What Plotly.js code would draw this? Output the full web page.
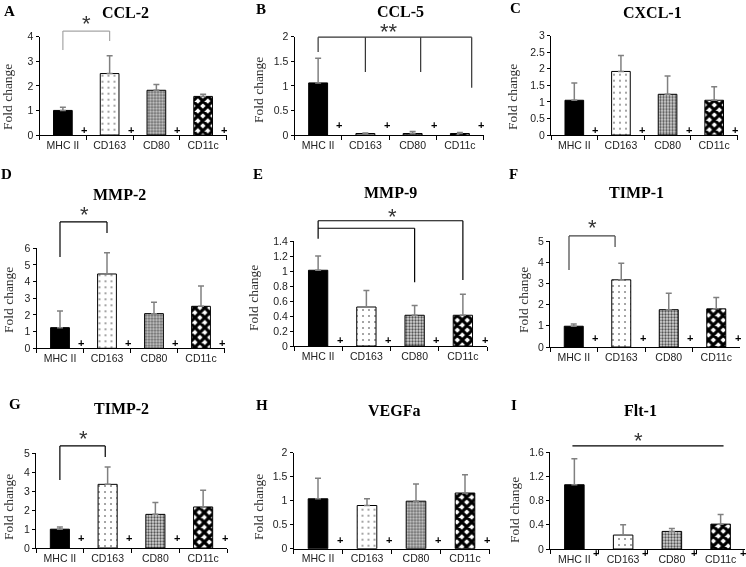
<!DOCTYPE html>
<html>
<head>
<meta charset="utf-8">
<script src="https://cdn.plot.ly/plotly-3.0.1.min.js"></script>
<style>
html,body{margin:0;padding:0;background:#fff}
#plot{filter:grayscale(100%)}
</style>
</head>
<body>
<div id="plot" style="width:746px;height:567px"></div>
<script>
/* fold change of each gene, mean and SD, per cell type */
var cells = ["MHC II", "CD163", "CD80", "CD11c"];

var ccl2 = [1.0, 2.5, 1.82, 1.57];
var ccl2Sd = [0.13, 0.72, 0.23, 0.09];
var ccl5 = [1.06, 0.03, 0.03, 0.03];
var ccl5Sd = [0.5, 0.01, 0.04, 0.02];
var cxcl1 = [1.05, 1.92, 1.23, 1.05];
var cxcl1Sd = [0.52, 0.48, 0.55, 0.41];
var mmp2 = [1.24, 4.46, 2.08, 2.52];
var mmp2Sd = [1.0, 1.28, 0.68, 1.22];
var mmp9 = [1.01, 0.52, 0.41, 0.41];
var mmp9Sd = [0.19, 0.22, 0.13, 0.28];
var timp1 = [0.98, 3.17, 1.76, 1.8];
var timp1Sd = [0.1, 0.78, 0.78, 0.54];
var timp2 = [0.99, 3.35, 1.77, 2.16];
var timp2Sd = [0.11, 0.91, 0.62, 0.88];
var vegfa = [1.04, 0.9, 0.99, 1.16];
var vegfaSd = [0.43, 0.14, 0.36, 0.38];
var flt1 = [1.06, 0.23, 0.29, 0.41];
var flt1Sd = [0.43, 0.17, 0.05, 0.16];

var W = 746, H = 567;
function fx(p) { return p / W; }
function fy(p) { return 1 - p / H; }

// fill of each cell type's bar
var cellStyle = [
  {color: '#000', pattern: {shape: ''}},
  {color: '#fff', pattern: {shape: '.', fgcolor: '#333', bgcolor: '#fff', size: 6, solidity: 0.06, fillmode: 'replace'}},
  {color: '#bdbdbd', pattern: {shape: '.', fgcolor: '#555', bgcolor: '#d4d4d4', size: 3, solidity: 0.45, fillmode: 'replace'}},
  {color: '#fff', pattern: {shape: 'x', fgcolor: '#000', bgcolor: '#fff', size: 7, solidity: 0.7, fillmode: 'replace'}}
];

/* box = [left, right, bottom, top] in px */
var panels = [
  {id: 'A', gene: 'CCL-2', mean: ccl2, sd: ccl2Sd, box: [39.5, 226.5, 135, 36.7], ymax: 4, dtick: 1,
   letter: [9, 11], title: [125, 13], ylab: [8, 97], plus: 5, lineColor: '#a6a6a6',
   lines: [[0, 3.46, 0, 4.23], [0, 4.23, 1, 4.23], [1, 4.23, 1, 3.82]], star: ['*', 0.5, 4.76]},
  {id: 'B', gene: 'CCL-5', mean: ccl5, sd: ccl5Sd, box: [294.5, 483.5, 135, 36.7], ymax: 2, dtick: 0.5,
   letter: [261, 9], title: [400, 11], ylab: [258, 90], plus: 10, lineColor: '#333',
   lines: [[0, 1.99, 3.25, 1.99], [0, 1.99, 0, 1.69], [1, 1.99, 1, 1.28], [2.17, 1.99, 2.17, 1.28], [3.25, 1.99, 3.25, 0.96]],
   star: ['**', 1.5, 2.2]},
  {id: 'C', gene: 'CXCL-1', mean: cxcl1, sd: cxcl1Sd, box: [551, 737.5, 135, 35.7], ymax: 3, dtick: 0.5,
   letter: [515, 8], title: [652, 13], ylab: [513, 97], plus: 5, lineColor: '#000', lines: [], star: null},
  {id: 'D', gene: 'MMP-2', mean: mmp2, sd: mmp2Sd, box: [36.5, 224.5, 348.3, 248.3], ymax: 6, dtick: 1,
   letter: [7, 174], title: [119, 194], ylab: [8, 300], plus: 5, lineColor: '#000',
   lines: [[0, 5.48, 0, 7.58], [0, 7.58, 1, 7.58], [1, 7.58, 1, 6.92]], star: ['*', 0.53, 8.3]},
  {id: 'E', gene: 'MMP-9', mean: mmp9, sd: mmp9Sd, box: [294, 487, 346, 241], ymax: 1.4, dtick: 0.2,
   letter: [258, 174], title: [390, 193], ylab: [253, 298], plus: 6, lineColor: '#000',
   lines: [[0, 1.43, 0, 1.67], [0, 1.67, 3, 1.67], [3, 1.67, 3, 0.88], [0, 1.57, 2, 1.57], [2, 1.57, 2, 0.85]],
   star: ['*', 1.55, 1.79]},
  {id: 'F', gene: 'TIMP-1', mean: timp1, sd: timp1Sd, box: [550, 740, 347, 241], ymax: 5, dtick: 1,
   letter: [513, 174], title: [636, 193], ylab: [523, 300], plus: 9, lineColor: '#444',
   lines: [[-0.1, 3.63, -0.1, 5.24], [-0.1, 5.24, 0.87, 5.24], [0.87, 5.24, 0.87, 4.72]], star: ['*', 0.4, 5.85]},
  {id: 'G', gene: 'TIMP-2', mean: timp2, sd: timp2Sd, box: [36, 227, 548, 453], ymax: 5, dtick: 1,
   letter: [15, 404], title: [121, 408], ylab: [8, 507], plus: 10, lineColor: '#000',
   lines: [[0, 3.58, 0, 5.37], [0, 5.37, 0.95, 5.37], [0.95, 5.37, 0.95, 4.79]], star: ['*', 0.5, 6.05]},
  {id: 'H', gene: 'VEGFa', mean: vegfa, sd: vegfaSd, box: [293.5, 489.5, 548.7, 452.7], ymax: 2, dtick: 0.5,
   letter: [262, 405], title: [394, 410], ylab: [258, 507], plus: 9, lineColor: '#000', lines: [], star: null},
  {id: 'I', gene: 'Flt-1', mean: flt1, sd: flt1Sd, box: [550, 745, 549, 452], ymax: 1.6, dtick: 0.4,
   letter: [514, 405], title: [640, 410], ylab: [514, 510], plus: -4, lineColor: '#000',
   lines: [[-0.04, 1.7, 3.06, 1.7]], star: ['*', 1.31, 1.88]}
];

var data = [];
var layout = {
  width: W, height: H,
  margin: {l: 0, r: 0, t: 0, b: 0},
  paper_bgcolor: 'white', plot_bgcolor: 'white',
  showlegend: false,
  barmode: 'overlay',
  annotations: [],
  shapes: []
};

var serif = 'Liberation Serif, Times New Roman, serif';
var sans = 'Liberation Sans, Arial, sans-serif';

panels.forEach(function (p, k) {
  var n = k === 0 ? '' : String(k + 1);
  var xa = 'x' + n, ya = 'y' + n;

  cells.forEach(function (c, i) {
    data.push({
      type: 'bar',
      x: [c],
      y: [p.mean[i]],
      xaxis: xa, yaxis: ya,
      width: 0.4,
      marker: {
        color: cellStyle[i].color,
        line: {color: '#000', width: 1},
        pattern: cellStyle[i].pattern
      },
      error_y: {
        type: 'data', symmetric: false,
        array: [p.sd[i]], arrayminus: [0],
        color: '#808080', thickness: 1.5, width: 3
      },
      name: c
    });
  });

  layout['xaxis' + n] = {
    domain: [fx(p.box[0]), fx(p.box[1])],
    anchor: ya,
    type: 'category',
    categoryorder: 'array', categoryarray: cells,
    range: [-0.5, 3.5],
    tickson: 'boundaries',
    ticks: 'outside', ticklen: 4, tickcolor: '#000',
    showline: true, linecolor: '#000', linewidth: 1,
    showgrid: false, zeroline: false,
    tickfont: {family: sans, size: 10.5, color: '#222'},
    fixedrange: true
  };
  layout['yaxis' + n] = {
    domain: [fy(p.box[2]), fy(p.box[3])],
    anchor: xa,
    range: [0, p.ymax],
    dtick: p.dtick,
    ticks: 'outside', ticklen: 3, tickcolor: '#000',
    showline: true, linecolor: '#000', linewidth: 1,
    showgrid: false, zeroline: false,
    tickfont: {family: sans, size: 10.5, color: '#222'},
    fixedrange: true
  };

  // panel letter, gene title, axis title
  layout.annotations.push({
    text: '<b>' + p.id + '</b>', xref: 'paper', yref: 'paper',
    x: fx(p.letter[0]), y: fy(p.letter[1]), xanchor: 'center', yanchor: 'middle',
    showarrow: false, font: {family: serif, size: 15, color: '#000'}
  });
  layout.annotations.push({
    text: '<b>' + p.gene + '</b>', xref: 'paper', yref: 'paper',
    x: fx(p.title[0]), y: fy(p.title[1]), xanchor: 'center', yanchor: 'middle',
    showarrow: false, font: {family: serif, size: 16, color: '#000'}
  });
  layout.annotations.push({
    text: 'Fold change', xref: 'paper', yref: 'paper', textangle: -90,
    x: fx(p.ylab[0]), y: fy(p.ylab[1]), xanchor: 'center', yanchor: 'middle',
    showarrow: false, font: {family: serif, size: 13.5, color: '#333'}
  });

  // "+" marks after the cell names
  cells.forEach(function (c, i) {
    layout.annotations.push({
      text: '<b>+</b>', xref: xa, yref: ya + ' domain',
      x: i + 0.45, y: 0, yshift: p.plus, xanchor: 'center', yanchor: 'middle',
      showarrow: false, font: {family: sans, size: 11, color: '#000'}
    });
  });

  // significance brackets
  p.lines.forEach(function (s) {
    layout.shapes.push({
      type: 'line', xref: xa, yref: ya + ' domain',
      x0: s[0], y0: s[1] / p.ymax, x1: s[2], y1: s[3] / p.ymax,
      line: {color: p.lineColor, width: 1.2}
    });
  });
  if (p.star) {
    layout.annotations.push({
      text: p.star[0], xref: xa, yref: ya + ' domain',
      x: p.star[1], y: p.star[2] / p.ymax, xanchor: 'center', yanchor: 'middle', yshift: -5,
      showarrow: false, font: {family: sans, size: 22, color: '#333'}
    });
  }
});

Plotly.newPlot('plot', data, layout, {displayModeBar: false, staticPlot: true});
</script>
</body>
</html>
